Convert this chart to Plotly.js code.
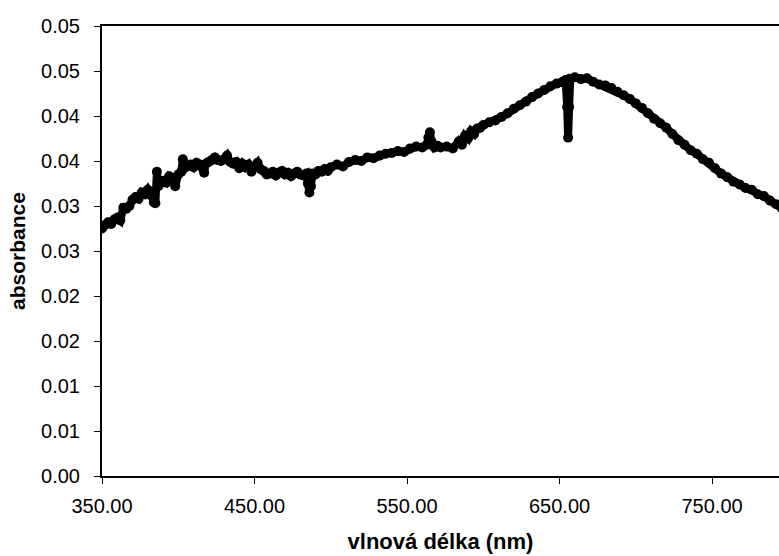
<!DOCTYPE html>
<html>
<head>
<meta charset="utf-8">
<script src="https://cdn.plot.ly/plotly-3.0.1.min.js"></script>
<style>html,body{margin:0;padding:0;background:#fff;}#chart{width:779px;height:556px;}</style>
</head>
<body>
<div id="chart"></div>
<script>
// wavelength (nm)
const wavelength = [
  350,352,354,356,358,360,362,364,366,368,370,372,374,376,378,380,382,384,385,386,387,388,390,392,394,396,398,400,402,403,404,406,408,410,412,414,417,418,420,422,424,426,428,430,432,434,436,438,440,442,444,446,448,450,452,454,456,458,460,462,464,466,468,470,472,474,476,478,480,482,484,485,486,487,488,490,492,494,496,498,500,504,508,512,516,520,524,528,532,536,540,544,548,552,556,560,563,564,565,566,568,570,572,576,580,584,586,588,590,592,594,596,598,600,604,608,612,616,620,624,628,632,636,640,644,648,652,654,655,655.6,656.3,657,660,664,668,672,676,680,684,688,692,696,700,704,708,712,716,720,724,728,732,736,740,744,748,752,756,760,764,768,772,776,780,784,788,792,796,800
];
// absorbance
const absorbance = [
  0.0275,0.0279,0.0282,0.0280,0.0285,0.0287,0.0284,0.0298,0.0297,0.0300,0.0307,0.0310,0.0308,0.0315,0.0313,0.0318,0.0312,0.0304,0.0303,0.0338,0.0322,0.0325,0.0328,0.0326,0.0333,0.0331,0.0322,0.0335,0.0338,0.0352,0.0342,0.0344,0.0346,0.0343,0.0348,0.0346,0.0337,0.0347,0.0349,0.0351,0.0354,0.0351,0.0350,0.0352,0.0356,0.0349,0.0347,0.0349,0.0342,0.0347,0.0343,0.0346,0.0338,0.0344,0.0348,0.0341,0.0339,0.0335,0.0336,0.0338,0.0334,0.0337,0.0339,0.0335,0.0337,0.0333,0.0336,0.0338,0.0335,0.0334,0.0336,0.0325,0.0315,0.0322,0.0336,0.0335,0.0339,0.0338,0.0341,0.0339,0.0343,0.0346,0.0344,0.0349,0.0351,0.0350,0.0354,0.0353,0.0356,0.0358,0.0359,0.0361,0.0360,0.0364,0.0366,0.0365,0.0368,0.0376,0.0382,0.0372,0.0365,0.0367,0.0365,0.0366,0.0364,0.0372,0.0368,0.0378,0.0375,0.0383,0.0380,0.0386,0.0387,0.0390,0.0393,0.0395,0.0399,0.0403,0.0408,0.0412,0.0416,0.0421,0.0425,0.0429,0.0433,0.0436,0.0438,0.0440,0.0410,0.0376,0.0410,0.0441,0.0443,0.0441,0.0442,0.0438,0.0435,0.0434,0.0431,0.0427,0.0423,0.0419,0.0414,0.0409,0.0403,0.0397,0.0392,0.0387,0.0380,0.0373,0.0368,0.0362,0.0358,0.0352,0.0348,0.0342,0.0336,0.0332,0.0327,0.0324,0.0320,0.0318,0.0313,0.0311,0.0306,0.0302,0.0297,0.0293
];
const xTickVals = [350, 450, 550, 650, 750];
const xTickText = ["350.00", "450.00", "550.00", "650.00", "750.00"];
const yTickVals = [0, 0.005, 0.01, 0.015, 0.02, 0.025, 0.03, 0.035, 0.04, 0.045, 0.05];
const yTickText = ["0.00", "0.01", "0.01", "0.02", "0.02", "0.03", "0.03", "0.04", "0.04", "0.05", "0.05"];

const font = "Liberation Sans, Arial, sans-serif";
const trace = {
  x: wavelength, y: absorbance, type: "scatter", mode: "lines+markers",
  line: {color: "#000", width: 8},
  marker: {color: "#000", size: 10},
  hoverinfo: "skip", showlegend: false
};
const layout = {
  width: 779, height: 556,
  margin: {l: 102, r: 0, t: 26, b: 80},
  paper_bgcolor: "#fff", plot_bgcolor: "#fff",
  font: {family: font, color: "#000", size: 20},
  xaxis: {
    range: [350, 793.9], tickvals: xTickVals, ticktext: xTickText,
    showgrid: false, zeroline: false, showline: true, linecolor: "#000", linewidth: 2, mirror: true,
    ticks: "outside", ticklen: 6, tickwidth: 1, tickcolor: "#000",
    tickfont: {family: font, size: 20, color: "#000"}, ticklabelstandoff: 5,
    title: {text: "<b>vlnová délka (nm)</b>", font: {family: font, size: 22, color: "#000"}, standoff: 18}
  },
  yaxis: {
    range: [0, 0.05], tickvals: yTickVals, ticktext: yTickText,
    showgrid: false, zeroline: false, showline: true, linecolor: "#000", linewidth: 2,
    ticks: "outside", ticklen: 6, tickwidth: 1, tickcolor: "#000",
    tickfont: {family: font, size: 20, color: "#000"}, ticklabelstandoff: 10,
    title: {text: "<b>absorbance</b>", font: {family: font, size: 21, color: "#000"}, standoff: 10}
  }
};
Plotly.newPlot("chart", [trace], layout, {staticPlot: true, displayModeBar: false});
</script>
</body>
</html>
